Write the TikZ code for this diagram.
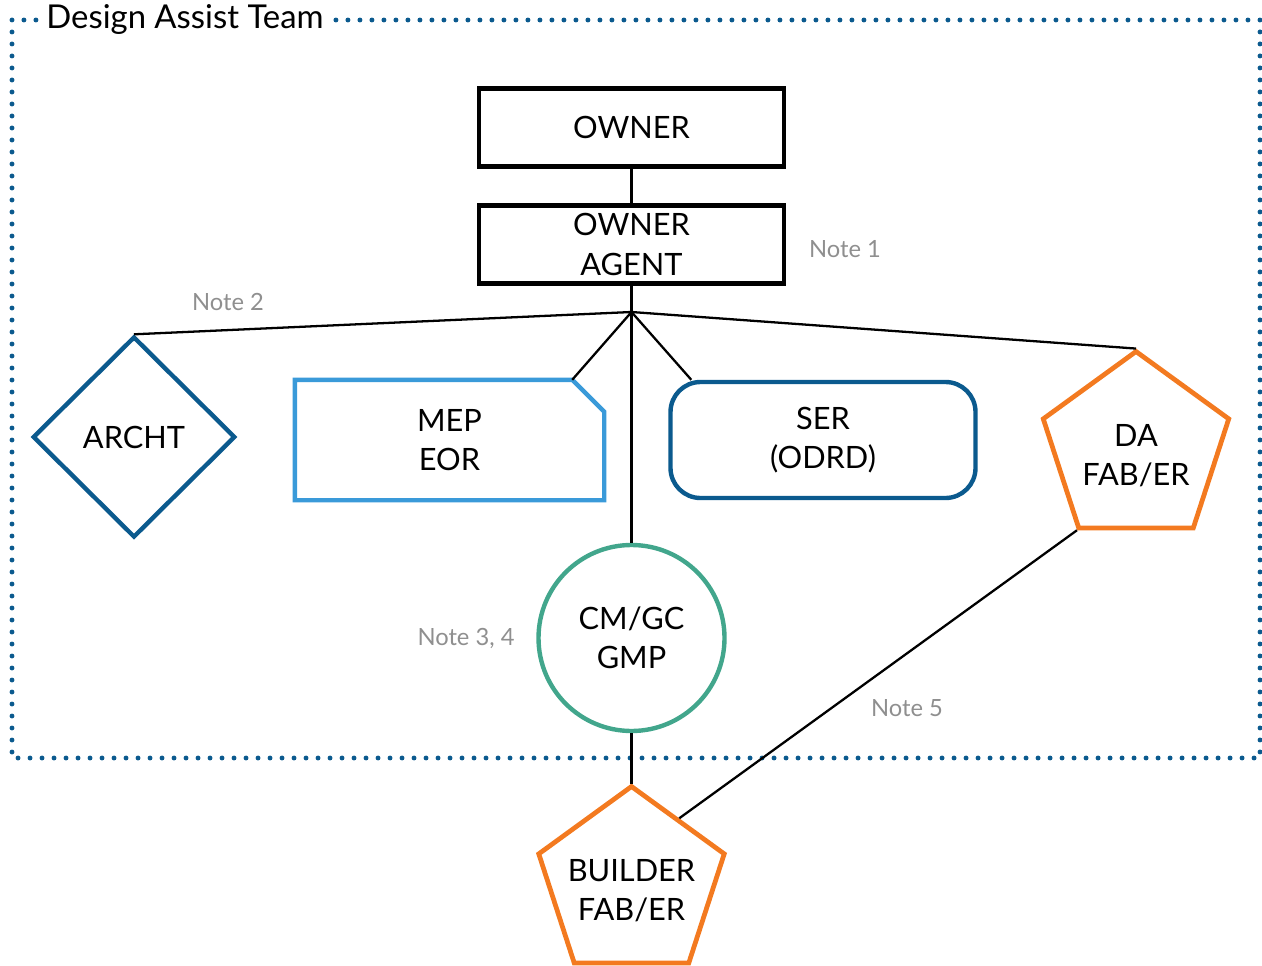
\documentclass[tikz,border=0pt]{standalone}
\usepackage{fontspec}
\setmainfont{Lato}
\usetikzlibrary{shapes.geometric,calc}

\definecolor{darkblue}{HTML}{0B5A8E}
\definecolor{lightblue}{HTML}{3A9AD9}
\definecolor{tealgreen}{HTML}{42A68C}
\definecolor{fabOrange}{HTML}{F37A20}
\definecolor{noteGray}{HTML}{8F8F8F}

\begin{document}
\begin{tikzpicture}[
    font=\fontsize{17.5}{22.3}\selectfont,
    link/.style={line width=1.3pt},
    ownerbox/.style={draw, line width=2.3pt, minimum width=6.1cm, minimum height=1.56cm, align=center},
    partybox/.style={minimum width=6.1cm, minimum height=2.32cm, align=center, line width=2.5pt},
    fabshape/.style={draw=fabOrange, regular polygon, regular polygon sides=5, minimum size=3.9cm, line width=2.7pt},
    fabtext/.style={align=center, yshift=-0.14cm},
    note/.style={text=noteGray, font=\fontsize{13.5}{16}\selectfont}
  ]
  \useasboundingbox (0, 0) rectangle (25.24, -19.32);

  % team boundary
  \draw[darkblue, line width=2.8pt, line cap=round, dash pattern=on 0pt off 0.24cm] (0.24, -0.40) rectangle (25.20, -15.16);
  \node[fill=white, inner xsep=0.08cm, inner ysep=0.1cm, font=\fontsize{18.7}{22}\selectfont] (team) at (3.70, -0.40) {Design Assist Team};

  \node[ownerbox] (owner) at (12.63, -2.55) {OWNER};
  \node[ownerbox] (agent) at (12.63, -4.89) {OWNER\\AGENT};
  \coordinate (hub) at (12.63, -6.24);

  \node[draw=darkblue, diamond, minimum width=4.05cm, minimum height=4.02cm, line width=2.5pt, inner sep=0pt] (archt) at (2.68, -8.74) {ARCHT};
  \node[partybox] (mep) at (8.99, -8.80) {MEP\\EOR};
  \draw[lightblue, line width=2.5pt, line join=miter]
    (mep.north west) -- ($(mep.north east) + (-0.64, 0)$) coordinate (mepcut)
    -- ($(mep.north east) + (0, -0.64)$) -- (mep.south east) -- (mep.south west) -- cycle;
  \node[partybox, draw=darkblue, rounded corners=0.6cm] (ser) at (16.46, -8.80) {SER\\(ODRD)};
  \coordinate (sercorner) at ($(ser.north west) + (0.46, 0)$);
  \node[fabshape] (da) at (22.72, -8.98) {};
  \node[fabtext] (datext) at (da.center) {DA\\FAB/ER};

  \node[draw=tealgreen, circle, minimum size=3.72cm, line width=2.5pt, align=center] (cm) at (12.63, -12.76) {CM/GC\\GMP};
  \node[fabshape] (builder) at (12.63, -17.68) {};
  \node[fabtext] (buildertext) at (builder.center) {BUILDER\\FAB/ER};

  \draw[link] (owner) -- (agent);
  \draw[link] (agent) -- (hub);
  \draw[link] (hub) -- (archt.north);
  \draw[link] (hub) -- (mepcut);
  \draw[link] (hub) -- (sercorner);
  \draw[link] (hub) -- (da.corner 1);
  \draw[link] (hub) -- (cm);
  \draw[link] (cm) -- (builder.corner 1);
  \draw[link] (da.corner 3) -- ($(builder.corner 1)!0.5!(builder.corner 5)$);

  \node[note] (note1) at (16.90, -4.98) {Note 1};
  \node[note] (note2) at (4.56, -6.04) {Note 2};
  \node[note] (note3) at (9.32, -12.78) {Note 3, 4};
  \node[note] (note5) at (18.14, -14.16) {Note 5};
\end{tikzpicture}
\end{document}
